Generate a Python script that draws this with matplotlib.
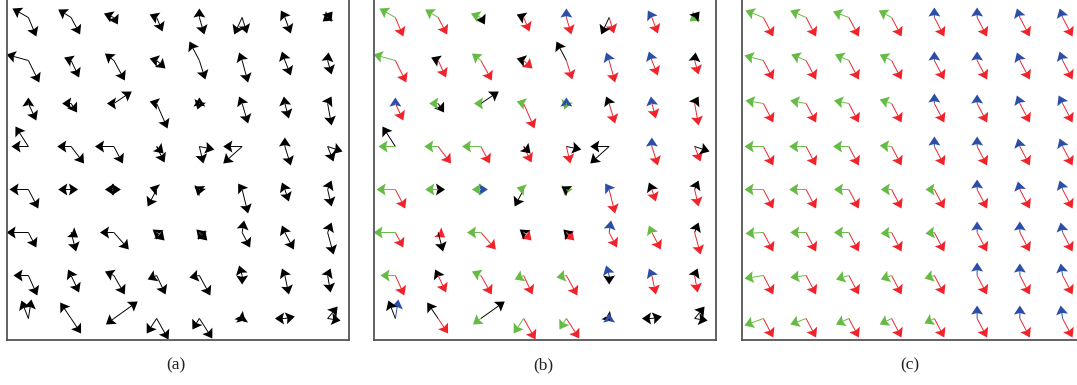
import numpy as np
import matplotlib.pyplot as plt

# arrow vectors in pixels (one grid cell = 43 px), dy positive = up
# rows top -> bottom, 8 nodes per row
# panels (a) and (b): same field, (b) coloured by class
ab_u1 = [[-16, -13, -10, -7, 0, -8, -4, 5],
         [-22, -7, -9, -7, -10, -3, -3, 1],
         [0, -9, -7, -7, 0, -3, -1, 4],
         [-17, -14, -19, 7, 15, -19, 0, 15],
         [-19, -13, -9, -7, -5, -4, -3, 4],
         [-22, 5, -14, -4, -3, 2, -3, 4],
         [-15, -3, -9, -9, -10, -3, -3, 3],
         [-7, -11, -8, -10, -7, 0, -10, 10]]
ab_v1 = [[9, 8, 4, 3, 9, -17, 7, 6],
         [6, 3, 7, 2, 19, 8, 9, 8],
         [6, 0, 0, 2, 6, 7, 7, 7],
         [0, 0, 0, -7, -3, 0, 9, -5],
         [0, 0, 0, 2, 3, 6, 7, 9],
         [0, -19, 0, 3, 3, 12, 7, 10],
         [0, 6, 4, -4, -2, 10, 7, 7],
         [18, 16, -6, -15, -11, 5, 0, 12]]
ab_c1 = ["gggkbkbk", "gkgkkbbk", "bgggbkbk", "gggkkkbk",
         "ggggkbkk", "gkgkkbgk", "gkgggbbk", "kkgggbkk"]

ab_u2 = [[8, 9, 4, 6, 5, 5, 6, -5],
         [11, 8, 11, 9, 6, 6, 6, 4],
         [8, 6, 18, 11, -2, 6, 4, 4],
         [-13, 13, 9, 8, 4, -19, 6, 6],
         [10, 7, 7, -9, -2, 6, 4, 4],
         [8, 7, 15, 8, 8, 8, 9, 6],
         [9, 8, 11, 9, 11, 0, 4, 3],
         [3, 10, 24, 12, 13, 3, 10, 13]]
ab_v2 = [[-19, -17, -7, -14, -17, -16, -16, -4],
         [-22, -17, -20, -8, -19, -22, -15, -14],
         [-17, -9, 12, -25, -6, -20, -15, -22],
         [20, -17, -17, -16, -17, -17, -19, -15],
         [-19, 0, 0, -17, -6, -24, -12, -17],
         [-15, -5, -17, -8, -8, -15, -17, -22],
         [-20, -17, -19, -19, -20, -9, -19, -17],
         [19, -15, 17, -21, -20, -3, 2, -2]]
ab_c2 = ["rrkrrrrg", "rrrrrrrr", "rkkrgrrr", "krrrrkrr",
         "rkbkgrrr", "rrrrrrrr", "rrrrrkrr", "brkrrkkk"]

# panel (c): regularised field
c_u1 = [[-18, -16, -16, -13, 0, 0, -3, -3],
        [-19, -15, -14, -12, 0, 0, -3, -3],
        [-18, -16, -15, -12, 0, 0, -3, -4],
        [-19, -17, -16, -12, 0, 0, -2, -3],
        [-19, -17, -15, -11, -9, 0, -2, -3],
        [-18, -16, -15, -11, -9, 0, 0, -2],
        [-19, -16, -13, -11, -10, 0, 0, -2],
        [-19, -16, -13, -12, -10, 0, 0, -2]]
c_v1 = [[7, 7, 6, 7, 10, 10, 9, 9],
        [5, 6, 6, 6, 9, 9, 8, 9],
        [3, 3, 3, 4, 10, 9, 8, 8],
        [0, 0, 0, 1, 10, 10, 8, 8],
        [0, 0, 0, 0, 0, 10, 8, 9],
        [-1, 0, 0, -1, -1, 11, 11, 10],
        [-3, -2, -4, -4, -3, 13, 12, 12],
        [-7, -6, -6, -6, -5, 13, 13, 13]]
c_c1 = ["ggggbbbb"] * 4 + ["gggggbbb"] * 4
c_u2 = [[10, 10, 10, 10, 10, 10, 10, 10]] * 8
c_v2 = [[-19, -19, -19, -19, -19, -19, -19, -19]] * 8
c_c2 = ["rrrrrrrr"] * 8

labels = ["(a)", "(b)", "(c)"]

palette = {"g": "#66bb44", "r": "#f0222a", "b": "#2c4ea6", "k": "black"}

fig = plt.figure(figsize=(10.77, 3.85), dpi=100)
W, H = 1077.0, 385.0
lefts = [7, 374, 742]
label_x = [176, 543, 910]

panels = [
    (ab_u1, ab_v1, ["k" * 8] * 8, ab_u2, ab_v2, ["k" * 8] * 8),
    (ab_u1, ab_v1, ab_c1, ab_u2, ab_v2, ab_c2),
    (c_u1, c_v1, c_c1, c_u2, c_v2, c_c2),
]

cols = np.arange(8) + 0.5
rows = 7.5 - np.arange(8)
X, Y = np.meshgrid(cols, rows)

for i, (u1, v1, k1, u2, v2, k2) in enumerate(panels):
    ax = fig.add_axes([lefts[i] / W, 45 / H, 342 / W, 344 / H])
    ax.set_xlim(0, 8)
    ax.set_ylim(0, 8)
    ax.set_xticks([])
    ax.set_yticks([])
    for s in ax.spines.values():
        s.set_color("#555555")
        s.set_linewidth(1.3)
    for u, v, k in [(u2, v2, k2), (u1, v1, k1)]:
        c = [palette[ch] for row in k for ch in row]
        ax.quiver(X.ravel(), Y.ravel(), np.ravel(u), np.ravel(v), color=c,
                  angles="xy", scale_units="xy", scale=43, pivot="tail",
                  width=0.0028, headwidth=12.5, headlength=9.5, headaxislength=8,
                  minshaft=0.2, minlength=0.2)
    fig.text(label_x[i] / W, 1 - 365 / H, labels[i], ha="center", va="center",
             fontsize=12.5, family="Liberation Serif", color="#222222")

fig.savefig("out.png", dpi=100)
